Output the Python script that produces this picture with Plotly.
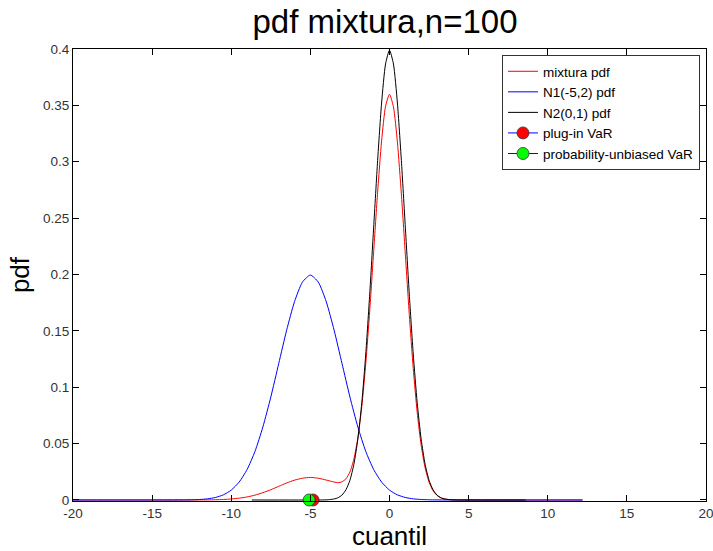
import plotly.graph_objects as go

# N1(-5,2) pdf
x_n1 = [-20, -13, -12.5, -12, -11.5, -11, -10.5, -10, -9.5, -9, -8.5, -8, -7.5, -7, -6.5, -6, -5.5, -5,
        -4.5, -4, -3.5, -3, -2.5, -2, -1.5, -1, -0.5, 0, 0.5, 1, 1.5, 2, 2.5, 3, 12.2]
y_n1 = [0, 0.00007, 0.00018, 0.00044, 0.00101, 0.00222, 0.00455, 0.00876, 0.0159, 0.0270, 0.0431, 0.0648,
        0.0913, 0.1210, 0.1506, 0.1760, 0.1933, 0.1995, 0.1933, 0.1760, 0.1506, 0.1210, 0.0913, 0.0648,
        0.0431, 0.0270, 0.0159, 0.00876, 0.00455, 0.00222, 0.00101, 0.00044, 0.00018, 0.00007, 0]

# N2(0,1) pdf
x_n2 = [-8.7, -4.5, -4, -3.75, -3.5, -3.25, -3, -2.75, -2.5, -2.25, -2, -1.75, -1.5, -1.25, -1, -0.75,
        -0.5, -0.25, 0, 0.25, 0.5, 0.75, 1, 1.25, 1.5, 1.75, 2, 2.25, 2.5, 2.75, 3, 3.25, 3.5, 3.75, 4,
        4.5, 8.6]
y_n2 = [0, 0, 0.0001, 0.0004, 0.0009, 0.0020, 0.0044, 0.0091, 0.0175, 0.0317, 0.0540, 0.0863, 0.1295,
        0.1826, 0.2420, 0.3011, 0.3521, 0.3867, 0.3989, 0.3867, 0.3521, 0.3011, 0.2420, 0.1826, 0.1295,
        0.0863, 0.0540, 0.0317, 0.0175, 0.0091, 0.0044, 0.0020, 0.0009, 0.0004, 0.0001, 0, 0]

# mixture pdf
x_mix = [-20, -13, -12, -11.5, -11, -10.5, -10, -9.5, -9, -8.5, -8, -7.5, -7, -6.5, -6, -5.5, -5, -4.5,
         -4, -3.5, -3.25, -3, -2.75, -2.5, -2.25, -2, -1.75, -1.5, -1.25, -1, -0.75, -0.5, -0.25, 0,
         0.25, 0.5, 0.75, 1, 1.25, 1.5, 1.75, 2, 2.25, 2.5, 2.75, 3, 3.25, 3.5, 4, 4.5, 12.2]
y_mix = [0, 0, 0.00004, 0.0001, 0.00022, 0.00046, 0.00088, 0.0016, 0.0027, 0.0043, 0.0065, 0.0091,
         0.0121, 0.0151, 0.0176, 0.0193, 0.0200, 0.0193, 0.0177, 0.0159, 0.0154, 0.0161, 0.0188, 0.0249,
         0.0363, 0.0551, 0.0830, 0.1209, 0.1677, 0.2205, 0.2731, 0.3185, 0.3492, 0.3599, 0.3486, 0.3174,
         0.2713, 0.2180, 0.1645, 0.1167, 0.0777, 0.0486, 0.0285, 0.0158, 0.0082, 0.0040, 0.0018, 0.0008,
         0.0001, 0, 0]

var_plugin = [-4.83]
var_unbiased = [-5.08]
var_y = [0]

x_ticks = [-20, -15, -10, -5, 0, 5, 10, 15, 20]
x_ticktext = ["-20", "-15", "-10", "-5", "0", "5", "10", "15", "20"]
y_ticks = [0, 0.05, 0.1, 0.15, 0.2, 0.25, 0.3, 0.35, 0.4]
y_ticktext = ["0", "0.05", "0.1", "0.15", "0.2", "0.25", "0.3", "0.35", "0.4"]

FONT = "Liberation Sans, Arial, sans-serif"

fig = go.Figure()
fig.add_trace(go.Scatter(x=x_mix, y=y_mix, mode="lines", name="mixtura pdf",
                         line=dict(color="red", width=1, shape="spline", smoothing=0.6)))
fig.add_trace(go.Scatter(x=x_n1, y=y_n1, mode="lines", name="N1(-5,2) pdf",
                         line=dict(color="blue", width=1, shape="spline", smoothing=0.6)))
fig.add_trace(go.Scatter(x=x_n2, y=y_n2, mode="lines", name="N2(0,1) pdf",
                         line=dict(color="black", width=1, shape="spline", smoothing=0.6)))
fig.add_trace(go.Scatter(x=var_plugin, y=var_y, mode="lines+markers", name="plug-in VaR",
                         line=dict(color="blue", width=1),
                         marker=dict(color="red", size=12, line=dict(color="#333", width=0.8)),
                         cliponaxis=False))
fig.add_trace(go.Scatter(x=var_unbiased, y=var_y, mode="lines+markers", name="probability-unbiased VaR",
                         line=dict(color="blue", width=1),
                         marker=dict(color="#00ff00", size=12, line=dict(color="#333", width=0.8)),
                         cliponaxis=False))

axis_common = dict(showgrid=False, zeroline=False, showline=True, linecolor="black", linewidth=1,
                   mirror="ticks", ticks="inside", ticklen=6, tickcolor="black",
                   ticklabeloverflow="allow", automargin=False,
                   tickfont=dict(family=FONT, size=13.5, color="#333"))

fig.update_layout(
    width=713, height=551,
    margin=dict(l=73, r=7, t=49, b=50, autoexpand=False),
    paper_bgcolor="white", plot_bgcolor="white",
    title=dict(text="pdf mixtura,n=100", x=385 / 713, xanchor="center", y=1 - 21 / 551, yanchor="middle",
               font=dict(family=FONT, size=33, color="black")),
    xaxis=dict(range=[-20, 20], tickvals=x_ticks, ticktext=x_ticktext,
               title=dict(text="cuantil", standoff=6,
                          font=dict(family=FONT, size=26, color="black")),
               **axis_common),
    yaxis=dict(range=[-0.0009, 0.4], tickvals=y_ticks, ticktext=y_ticktext,
               title=dict(text="pdf", standoff=5,
                          font=dict(family=FONT, size=26, color="black")),
               **axis_common),
    legend=dict(x=0.9905, y=0.9867, xanchor="right", yanchor="top", bgcolor="white",
                bordercolor="#333", borderwidth=1, tracegroupgap=0,
                font=dict(family=FONT, size=13.5, color="black")),
    showlegend=True,
)

fig.write_html("out.html")
